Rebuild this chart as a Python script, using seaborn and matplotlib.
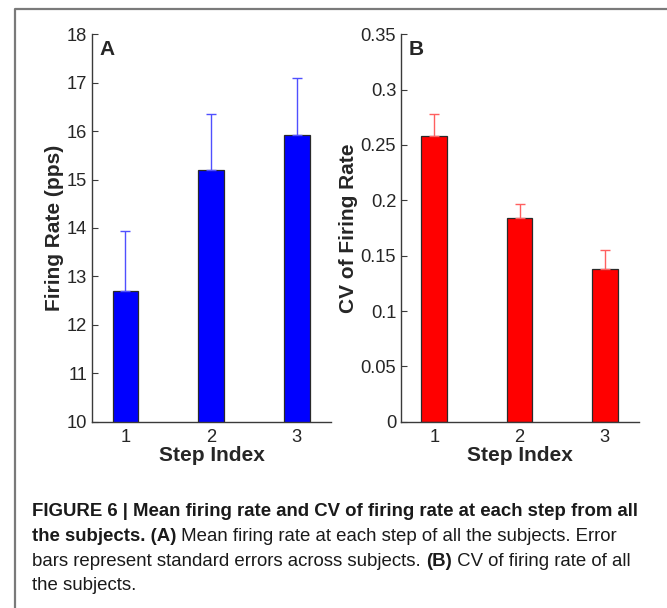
import matplotlib
matplotlib.use("Agg")
import matplotlib.pyplot as plt
import seaborn as sns
import pandas as pd
from matplotlib.lines import Line2D
from matplotlib.ticker import FuncFormatter

steps = ["1", "2", "3"]
rate_mean = [12.70, 15.20, 15.93]
rate_sem = [1.23, 1.16, 1.17]
cv_mean = [0.258, 0.184, 0.138]
cv_err = [0.020, 0.0125, 0.017]

rate_ticks = [10, 11, 12, 13, 14, 15, 16, 17, 18]
cv_ticks = [0, 0.05, 0.1, 0.15, 0.2, 0.25, 0.3, 0.35]

caption_lines = [
    [("FIGURE 6 | Mean firing rate and CV of firing rate at each step from all", "bold")],
    [("the subjects. (A)", "bold"), (" Mean firing rate at each step of all the subjects. Error", "normal")],
    [("bars represent standard errors across subjects. ", "normal"), ("(B)", "bold"), (" CV of firing rate of all", "normal")],
    [("the subjects.", "normal")],
]

sns.set_style("white")
plt.rcParams["font.family"] = ["Liberation Sans", "DejaVu Sans"]

fig = plt.figure(figsize=(6.67, 6.08), dpi=100)
axA = fig.add_axes([0.1379, 0.3064, 0.3583, 0.6372])
axB = fig.add_axes([0.6012, 0.3064, 0.3568, 0.6372])

dfA = pd.DataFrame({"step": steps, "val": rate_mean})
dfB = pd.DataFrame({"step": steps, "val": cv_mean})

def panel(ax, df, errs, color, ecolor, ylim, ticks, ylabel, letter):
    sns.barplot(data=df, x="step", y="val", ax=ax, color=color, width=0.30,
                edgecolor="#2a2a2a", linewidth=0.9, saturation=1, errorbar=None)
    xs = [p.get_x() + p.get_width() / 2 for p in ax.patches]
    ax.errorbar(xs, df["val"], yerr=[[0] * len(errs), errs], fmt="none",
                ecolor=ecolor, elinewidth=1.0, capsize=3.5, capthick=1.0, zorder=1)
    ax.set_ylim(*ylim)
    ax.set_xlim(-0.39, 2.40)
    ax.set_yticks(ticks)
    ax.yaxis.set_major_formatter(FuncFormatter(lambda v, p: "%g" % round(v, 4)))
    for s in ["top", "right"]:
        ax.spines[s].set_visible(False)
    for s in ["left", "bottom"]:
        ax.spines[s].set_color("#3a3a3a")
        ax.spines[s].set_linewidth(1.0)
    ax.tick_params(direction="in", length=4, width=0.8, color="#3a3a3a",
                   labelsize=13.2, pad=5, left=True, bottom=True)
    ax.tick_params(axis="y", pad=3.5)
    ax.set_xlabel("Step Index", fontsize=15, fontweight="bold", labelpad=0)
    ax.set_ylabel(ylabel, fontsize=15, fontweight="bold", labelpad=2)
    ax.text(0.03, 0.985, letter, transform=ax.transAxes, fontsize=15,
            fontweight="bold", va="top", ha="left")
    ax.set_facecolor("white")

panel(axA, dfA, rate_sem, "#0000ff", "#5050ff", (10, 18), rate_ticks,
      "Firing Rate (pps)", "A")
panel(axB, dfB, cv_err, "#ff0000", "#ff6060", (0, 0.35), cv_ticks,
      "CV of Firing Rate", "B")

# figure frame (left and top)
fig.add_artist(Line2D([15 / 667, 15 / 667, 1.0], [0.0, 1 - 9 / 608, 1 - 9 / 608],
                      transform=fig.transFigure, color="#7a7a7a", linewidth=1.6))

# caption
cap_family = ["Liberation Sans", "DejaVu Sans"]
y0 = 1 - 512 / 608
dy = 24.6 / 608
renderer = fig.canvas.get_renderer()
for i, line in enumerate(caption_lines):
    x = 32 / 667
    for txt, w in line:
        t = fig.text(x, y0 - i * dy, txt, fontsize=13.4, fontweight=w,
                     family=cap_family, va="center", ha="left", color="#1a1a1a")
        bb = t.get_window_extent(renderer=renderer)
        x += bb.width / fig.bbox.width

fig.savefig("out.png", dpi=100, facecolor="white")
